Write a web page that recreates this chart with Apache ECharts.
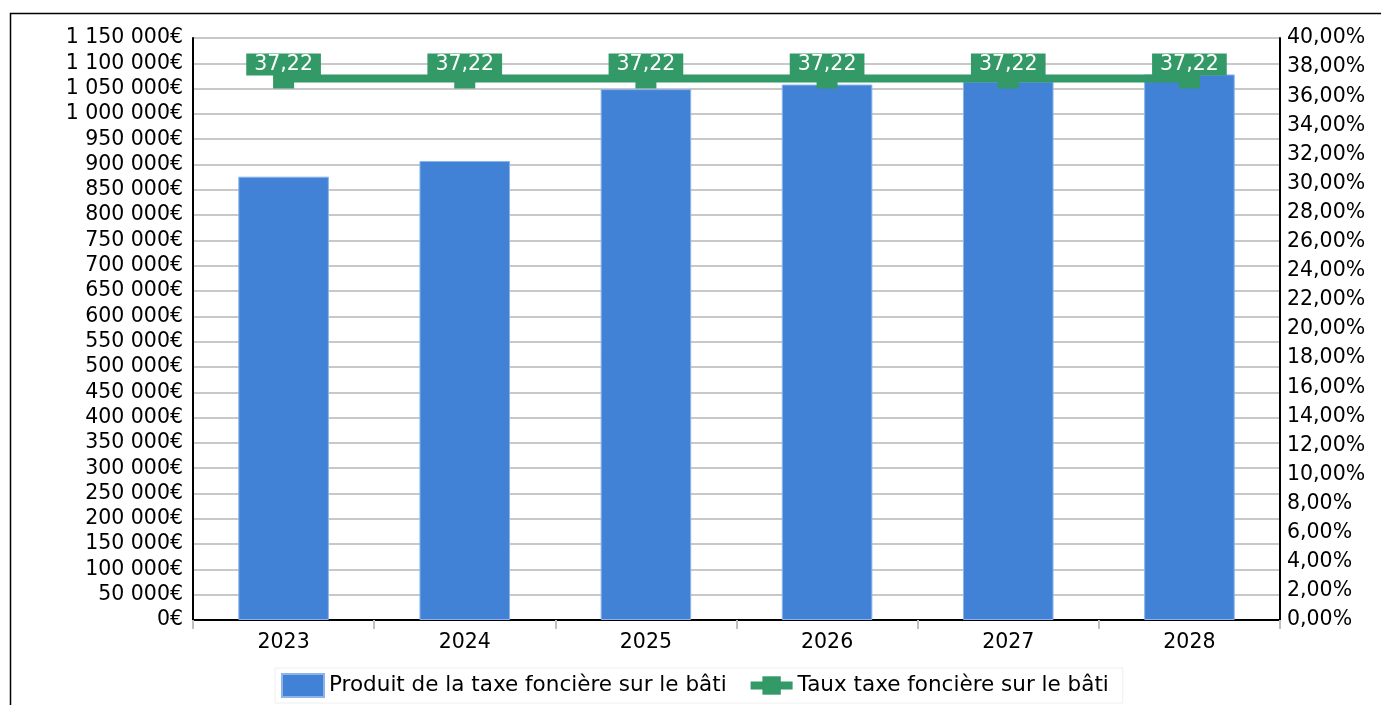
<!DOCTYPE html>
<html>
<head>
<meta charset="utf-8">
<script src="https://cdn.jsdelivr.net/npm/echarts@6/dist/echarts.min.js"></script>
<style>
html,body{margin:0;padding:0;background:#fff;}
#chart{width:1381px;height:705px;}
</style>
</head>
<body>
<div id="chart"></div>
<script>
const categories = ['2023', '2024', '2025', '2026', '2027', '2028'];
const produitValues = [876000, 907000, 1049000, 1058000, 1064000, 1078000];
const tauxValues = [37.22, 37.22, 37.22, 37.22, 37.22, 37.22];
const seriesNames = ['Produit de la taxe foncière sur le bâti', 'Taux taxe foncière sur le bâti'];

const FONT = 'DejaVu Sans';
function fmtEuro(v) {
  const s = Math.round(v).toString().replace(/\B(?=(\d{3})+(?!\d))/g, ' ');
  return s + '€';
}
function fmtPct(v) {
  return v.toFixed(2).replace('.', ',') + '%';
}

const chart = echarts.init(document.getElementById('chart'));
chart.setOption({
  animation: false,
  backgroundColor: '#ffffff',
  textStyle: { fontFamily: FONT },
  graphic: [{
    type: 'rect',
    left: 8, top: 11,
    shape: { x: 0, y: 0, width: 1400, height: 800 },
    style: { fill: 'none', stroke: '#000', lineWidth: 1.5 },
    silent: true
  }],
  grid: { left: 193, right: 101, top: 38, bottom: 85, containLabel: false },
  legend: {
    left: 275, top: 668,
    padding: [5, 14, 5, 6],
    borderColor: '#eeeeee', borderWidth: 1,
    itemWidth: 42, itemHeight: 23, itemGap: 20,
    textStyle: { fontFamily: FONT, fontSize: 21.5, color: '#000' },
    data: [
      { name: seriesNames[0], icon: 'rect' },
      { name: seriesNames[1], lineStyle: { width: 8, color: '#339966' } }
    ]
  },
  xAxis: {
    type: 'category',
    data: categories,
    axisLine: { lineStyle: { color: '#000', width: 2 } },
    axisTick: { show: true, alignWithLabel: false, length: 9, lineStyle: { color: '#c0c0c0', width: 2 } },
    axisLabel: { fontFamily: FONT, fontSize: 20.5, color: '#000', margin: 12 }
  },
  yAxis: [{
    type: 'value', min: 0, max: 1150000, interval: 50000,
    axisLine: { show: true, lineStyle: { color: '#000', width: 2 } },
    axisTick: { show: false },
    splitLine: { lineStyle: { color: '#c8c8c8', width: 2 } },
    axisLabel: { fontFamily: FONT, fontSize: 20.5, color: '#000', margin: 10, formatter: fmtEuro }
  }, {
    type: 'value', min: 0, max: 40, interval: 2, position: 'right',
    axisLine: { show: true, lineStyle: { color: '#000', width: 2 } },
    axisTick: { show: false },
    splitLine: { show: false },
    axisLabel: { fontFamily: FONT, fontSize: 20.5, color: '#000', margin: 7, formatter: fmtPct }
  }],
  series: [{
    name: seriesNames[0],
    type: 'bar',
    data: produitValues,
    barWidth: '50%',
    yAxisIndex: 0,
    itemStyle: { color: '#4282D6', borderColor: '#8db4ea', borderWidth: 1 }
  }, {
    name: seriesNames[1],
    type: 'line',
    data: tauxValues,
    yAxisIndex: 1,
    symbol: 'rect',
    symbolSize: [21, 20],
    lineStyle: { color: '#339966', width: 8 },
    itemStyle: { color: '#339966' },
    label: {
      show: true, position: 'top', distance: -7,
      color: '#fff', fontFamily: FONT, fontSize: 20.5, lineHeight: 20,
      backgroundColor: '#339966', padding: [1, 8],
      formatter: p => p.value.toFixed(2).replace('.', ',')
    }
  }]
});
</script>
</body>
</html>
